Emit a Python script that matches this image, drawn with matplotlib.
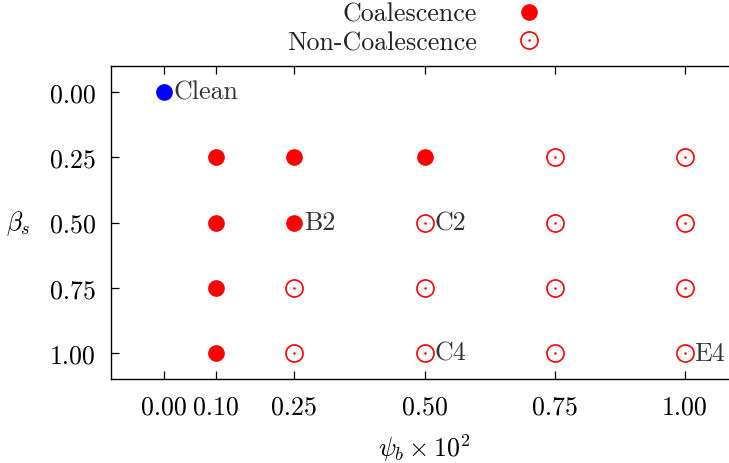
import matplotlib
matplotlib.use("Agg")
import matplotlib.pyplot as plt
from matplotlib.legend_handler import HandlerTuple

plt.rcParams['font.family'] = ['cmr10', 'DejaVu Serif']
plt.rcParams['mathtext.fontset'] = 'cm'
plt.rcParams['axes.formatter.use_mathtext'] = True

# Data
clean_psi = [0.00]
clean_beta = [0.00]
coal_psi = [0.10, 0.10, 0.10, 0.10, 0.25, 0.25, 0.50]
coal_beta = [0.25, 0.50, 0.75, 1.00, 0.25, 0.50, 0.25]
non_psi = [0.25, 0.25, 0.50, 0.50, 0.50, 0.75, 0.75, 0.75, 0.75, 1.00, 1.00, 1.00, 1.00]
non_beta = [0.75, 1.00, 0.50, 0.75, 1.00, 0.25, 0.50, 0.75, 1.00, 0.25, 0.50, 0.75, 1.00]
case_names = ["Clean", "B2", "C2", "C4", "E4"]
case_psi = [0.00, 0.25, 0.50, 0.50, 1.00]
case_beta = [0.00, 0.50, 0.50, 1.00, 1.00]
x_ticks = [0.00, 0.10, 0.25, 0.50, 0.75, 1.00]
x_ticklabels = ["0.00", "0.10", "0.25", "0.50", "0.75", "1.00"]
y_ticks = [0.00, 0.25, 0.50, 0.75, 1.00]
y_ticklabels = ["0.00", "0.25", "0.50", "0.75", "1.00"]

FS = 18.7

fig = plt.figure(figsize=(7.29, 4.64), dpi=100)
ax = fig.add_axes([111/729, 1-380/464, (737-111)/729, (380-67)/464])

ax.plot(clean_psi, clean_beta, ls='none', marker='o', ms=12, color='#0000ff', mew=0, zorder=3)
h_coal, = ax.plot(coal_psi, coal_beta, ls='none', marker='o', ms=12, color='#ff0000', mew=0,
                  zorder=3, label='Coalescence')
h_non, = ax.plot(non_psi, non_beta, ls='none', marker='o', ms=12.3, mfc='none', mec='#ff0000',
                 mew=1.2, zorder=3)
h_dot, = ax.plot(non_psi, non_beta, ls='none', marker='o', ms=1.8, color='#ff0000', mew=0, zorder=3)

for name, px, py in zip(case_names, case_psi, case_beta):
    ax.annotate(name, (px, py), xytext=(7, 0), textcoords='offset points',
                ha='left', va='center', fontsize=FS, color='#333333')

ax.set_xlim(-0.102, 1.1)
ax.set_ylim(1.1, -0.1)
ax.set_xticks(x_ticks)
ax.set_xticklabels(x_ticklabels)
ax.set_yticks(y_ticks)
ax.set_yticklabels(y_ticklabels)
ax.tick_params(axis='x', direction='in', length=5.5, width=0.9, top=True, bottom=True,
               labelsize=FS, pad=11)
ax.tick_params(axis='y', direction='in', length=5.5, width=0.9, left=True, right=True,
               labelsize=FS, pad=11)
for s in ax.spines.values():
    s.set_linewidth(1.0)

ax.set_xlabel(r'$\psi_b \times 10^2$', fontsize=FS, labelpad=10)
ax.set_ylabel(r'$\beta_s$', fontsize=FS, rotation=0, labelpad=23, va='center')

leg = fig.legend([h_coal, (h_non, h_dot)], ['Coalescence', 'Non-Coalescence'],
                 handler_map={tuple: HandlerTuple(ndivide=1)},
                 loc='upper right', bbox_to_anchor=(542/729, 0.993), frameon=False,
                 markerfirst=False, handlelength=1.0, handletextpad=1.5,
                 borderpad=0, borderaxespad=0, labelspacing=0.17, fontsize=FS)
for t in leg.get_texts():
    t.set_color('#222222')

fig.savefig('out.png', dpi=100)
